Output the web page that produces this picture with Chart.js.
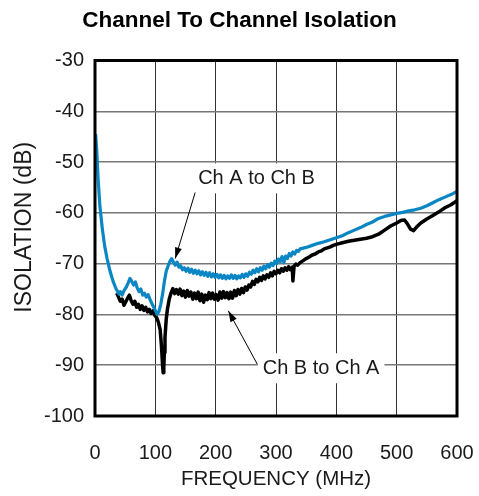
<!DOCTYPE html>
<html><head><meta charset="utf-8">
<script src="https://cdn.jsdelivr.net/npm/chart.js@4"></script>
<style>html,body{margin:0;padding:0;background:#fff}#wrap{width:479px;height:496px}</style>
</head><body><div id="wrap"><canvas id="c" width="479" height="496"></canvas></div>
<script>
// Frequency (MHz) and isolation (dB), Ch A to Ch B
const freqA = [1,3,5,8,12,16,20,25,30,35,40,42,45,48,52,55,58,61,64,67,70,73,76,79,82,85,88,91,94,97,100,103,106,109,112,115,118,121,124,127,130,133,136,139,142,145,148,151,154,157,160,163,166,169,172,175,178,181,184,187,190,193,196,199,202,205,208,211,214,217,220,223,226,229,232,235,238,241,244,247,250,253,256,259,262,265,268,271,274,277,280,283,286,289,292,295,298,301,304,307,310,313,316,319,322,325,328,331,334,337,340,350,360,370,380,390,400,410,420,430,440,450,460,470,480,490,500,510,520,530,540,550,560,570,580,590,600];
const isoA  = [-44.5,-48,-53,-58.5,-63,-66.5,-69,-71.5,-73.5,-75,-76,-75.5,-76.2,-75.3,-74.6,-73.8,-72.9,-73.5,-74.2,-73.6,-74.8,-75.5,-75.0,-76.2,-75.8,-76.6,-76.1,-77.0,-77.8,-78.5,-79.2,-80.0,-79.4,-78.0,-76.0,-73.5,-71.5,-70.5,-69.6,-69.0,-69.7,-70.3,-69.7,-70.7,-70.4,-71.2,-70.8,-71.5,-70.9,-71.7,-71.1,-71.9,-71.3,-72.0,-71.4,-72.2,-71.6,-72.3,-71.7,-72.5,-71.8,-72.6,-72.0,-72.7,-72.1,-72.8,-72.2,-72.9,-72.3,-73.0,-72.4,-72.9,-72.2,-72.9,-72.3,-73.0,-72.4,-72.8,-72.1,-72.7,-72.0,-72.5,-71.7,-72.1,-71.3,-71.8,-71.0,-71.6,-70.8,-71.3,-70.5,-71.0,-70.2,-70.7,-69.9,-70.4,-69.5,-70.0,-69.1,-69.6,-68.6,-69.8,-68.5,-69.0,-68.0,-68.5,-67.7,-68.1,-67.4,-67.6,-67.1,-66.8,-66.4,-66.0,-65.7,-65.3,-64.9,-64.5,-63.9,-63.4,-62.9,-62.3,-61.8,-61.1,-60.7,-60.4,-60.1,-59.9,-59.6,-59.4,-59.1,-58.6,-58.0,-57.4,-56.9,-56.4,-55.8];
// Ch B to Ch A
const freqB = [36,39,42,45,48,51,54,57,60,63,66,69,72,75,78,81,84,87,90,93,96,99,102,105,108,110,112,113,114,115,116,118,120,123,126,129,132,135,138,141,144,147,150,153,156,159,162,165,168,171,174,177,180,183,186,189,192,195,198,201,204,207,210,213,216,219,222,225,228,231,234,237,240,243,246,249,252,255,258,261,264,267,270,273,276,279,282,285,288,291,294,297,300,303,306,309,312,315,318,321,324,327,328,330,333,336,340,345,350,355,360,365,370,375,380,385,390,395,400,410,420,430,440,450,460,470,480,490,500,507,513,518,523,528,533,540,550,560,570,580,590,600];
const isoB  = [-75.8,-76.6,-77.4,-77.0,-78.2,-77.5,-76.8,-76.2,-77.3,-78.0,-77.4,-78.6,-78.0,-79.0,-78.3,-79.2,-78.6,-79.5,-79.0,-79.8,-79.3,-80.2,-80.6,-81.5,-83.0,-86.0,-90.0,-91.5,-90.5,-87.5,-84.5,-81.0,-79.0,-77.0,-75.8,-74.9,-75.9,-75.1,-76.0,-75.0,-76.3,-75.4,-76.6,-75.3,-76.4,-75.6,-77.0,-75.8,-76.9,-75.6,-77.3,-76.0,-77.6,-76.2,-77.1,-75.7,-76.9,-75.8,-77.0,-76.1,-77.2,-75.6,-76.8,-75.5,-76.7,-75.7,-76.9,-75.6,-76.8,-75.3,-76.3,-75.1,-76.0,-74.9,-75.7,-74.6,-75.2,-74.2,-74.6,-73.5,-74.1,-73.1,-73.6,-72.7,-73.3,-72.4,-73.0,-72.2,-72.7,-71.8,-72.4,-71.5,-72.0,-71.3,-71.8,-71.0,-71.5,-70.8,-71.3,-70.6,-71.2,-70.7,-73.4,-70.5,-70.1,-70.3,-69.8,-69.4,-69.0,-68.7,-68.3,-68.1,-67.7,-67.5,-67.1,-66.9,-66.7,-66.4,-66.2,-65.9,-65.6,-65.4,-65.2,-65.0,-64.7,-64.2,-63.4,-62.6,-62.0,-61.5,-61.4,-62.2,-63.2,-63.5,-62.8,-62.0,-61.2,-60.5,-59.8,-59.0,-58.4,-57.6];
const xRange = [0, 600];
const yRange = [-100, -30];
const xStep = 100, yStep = 10;
const seriesNames = ['Ch A to Ch B', 'Ch B to Ch A'];
const yTitle = 'ISOLATION (dB)';

const FONT = 'Liberation Sans, Arial, Helvetica, sans-serif';
const notes = [
  {text: seriesNames[0], at: [171, -53.2], from: [166, -56.0], to: [133, -69.0]},
  {text: seriesNames[1], at: [278, -90.6], from: [269, -89.8], to: [221, -79.3]}
];

const annotPlugin = {
  id: 'annot',
  afterDatasetsDraw(chart) {
    const {ctx, scales: {x, y}} = chart;
    ctx.save();
    ctx.font = '20px ' + FONT;
    ctx.textBaseline = 'middle';
    ctx.textAlign = 'left';
    notes.forEach(n => {
      const tx = x.getPixelForValue(n.at[0]), ty = y.getPixelForValue(n.at[1]);
      const w = ctx.measureText(n.text).width;
      ctx.fillStyle = '#fff';
      ctx.fillRect(tx - 5, ty - 15, w + 10, 30);
      ctx.fillStyle = '#1a1a1a';
      ctx.fillText(n.text, tx, ty);
      const x1 = x.getPixelForValue(n.from[0]), y1 = y.getPixelForValue(n.from[1]);
      const x2 = x.getPixelForValue(n.to[0]), y2 = y.getPixelForValue(n.to[1]);
      ctx.strokeStyle = '#000'; ctx.lineWidth = 1;
      ctx.beginPath(); ctx.moveTo(x1, y1); ctx.lineTo(x2, y2); ctx.stroke();
      const a = Math.atan2(y2 - y1, x2 - x1), L = 11, W = 3.5;
      ctx.fillStyle = '#000';
      ctx.beginPath();
      ctx.moveTo(x2, y2);
      ctx.lineTo(x2 - L * Math.cos(a) + W * Math.sin(a), y2 - L * Math.sin(a) - W * Math.cos(a));
      ctx.lineTo(x2 - L * Math.cos(a) - W * Math.sin(a), y2 - L * Math.sin(a) + W * Math.cos(a));
      ctx.closePath(); ctx.fill();
    });
    ctx.restore();
  },
  afterDraw(chart) {
    const {ctx, chartArea: c} = chart;
    ctx.save();
    ctx.strokeStyle = '#000'; ctx.lineWidth = 3;
    ctx.strokeRect(c.left, c.top, c.right - c.left, c.bottom - c.top);
    // y axis title
    ctx.translate(25, (c.top + c.bottom) / 2 - 11);
    ctx.rotate(-Math.PI / 2);
    ctx.font = '23px ' + FONT;
    ctx.fillStyle = '#1a1a1a';
    ctx.textAlign = 'center';
    ctx.textBaseline = 'middle';
    ctx.fillText(yTitle, 0, 0);
    ctx.restore();
  }
};

new Chart(document.getElementById('c'), {
  type: 'line',
  data: {
    datasets: [
      {label: seriesNames[0], data: freqA.map((f, i) => ({x: f, y: isoA[i]})), borderColor: '#0a86c4', borderWidth: 3.2, pointRadius: 0, tension: 0, borderJoinStyle: 'round'},
      {label: seriesNames[1], data: freqB.map((f, i) => ({x: f, y: isoB[i]})), borderColor: '#000', borderWidth: 3.5, pointRadius: 0, tension: 0, borderJoinStyle: 'round'}
    ]
  },
  options: {
    responsive: false, animation: false,
    layout: {padding: 0},
    plugins: {
      legend: {display: false}, tooltip: {enabled: false},
      title: {display: true, text: 'Channel To Channel Isolation', color: '#000',
        font: {family: FONT, size: 22.5, weight: 'bold'}, padding: {top: 7, bottom: 26.5}}
    },
    scales: {
      x: {type: 'linear', min: xRange[0], max: xRange[1],
        ticks: {stepSize: xStep, color: '#1a1a1a', font: {family: FONT, size: 20}, padding: 25, maxRotation: 0},
        grid: {color: '#333', lineWidth: 1, drawTicks: false}, border: {display: false},
        title: {display: true, text: 'FREQUENCY (MHz)', color: '#1a1a1a', font: {family: FONT, size: 20.5}, padding: {top: 3, bottom: 4}},
        afterFit(s) { s.height = 80; s.paddingLeft = 0; s.paddingRight = 22; }},
      y: {type: 'linear', min: yRange[0], max: yRange[1],
        ticks: {stepSize: yStep, color: '#1a1a1a', font: {family: FONT, size: 20}, padding: 11},
        grid: {color: '#777', lineWidth: 1.5, drawTicks: false}, border: {display: false},
        title: {display: false, text: yTitle},
        afterFit(s) { s.width = 95; s.paddingTop = 0; s.paddingBottom = 0; }}
    }
  },
  plugins: [annotPlugin]
});
</script></body></html>
